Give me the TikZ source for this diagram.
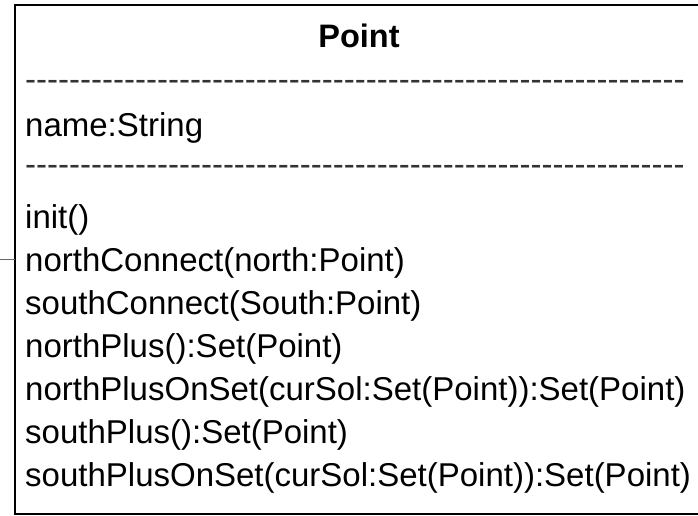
\documentclass[tikz,border=0pt]{standalone}
\usepackage{fontspec}
\setmainfont{Liberation Sans}
% plain hyphens for the separator rows (no -- / --- ligatures)
\newfontfamily\dashfont{Liberation Sans}[Ligatures=TeXOff]
\begin{document}
\begin{tikzpicture}[x=1pt,y=1pt,
  classbox/.style={draw=black, line width=2pt, fill=white, inner sep=0pt, outer sep=0pt,
    minimum width=688pt, minimum height=509pt, anchor=north west},
  member/.style={anchor=base west, inner sep=0pt, font=\fontsize{33}{40}\selectfont},
  rule/.style={anchor=base west, inner sep=0pt, font=\fontsize{33}{40}\dashfont, text=black!80},
  title/.style={anchor=base, inner sep=0pt, font=\fontsize{32.5}{39}\selectfont\bfseries},
  link/.style={draw=black!60, line width=1pt}]
  \clip (0,0) rectangle (698,-515);
  \useasboundingbox (0,0) rectangle (698,-515);

  % class box (its right side runs past the page edge)
  \node[classbox] (point) at (15,-5) {};

  % incoming association from the left
  \coordinate (ext) at (0,-259);
  \draw[link] (ext) -- (ext -| point.west);

  % header
  \node[title] (hdr) at (359,-47) {Point};
  \node[rule] (sep1) at (25,-90) {------------------------------------------------------------};

  % attributes
  \node[member] (attr) at (25,-136) {name:String};
  \node[rule] (sep2) at (25,-175) {------------------------------------------------------------};

  % operations
  \node[member] (op1) at (25,-228) {init()};
  \node[member] (op2) at (25,-271) {northConnect(north:Point)};
  \node[member] (op3) at (25,-314) {southConnect(South:Point)};
  \node[member] (op4) at (25,-357) {northPlus():Set(Point)};
  \node[member] (op5) at (25,-400) {northPlusOnSet(curSol:Set(Point)):Set(Point)};
  \node[member] (op6) at (25,-443) {southPlus():Set(Point)};
  \node[member] (op7) at (25,-486) {southPlusOnSet(curSol:Set(Point)):Set(Point)};
\end{tikzpicture}
\end{document}
